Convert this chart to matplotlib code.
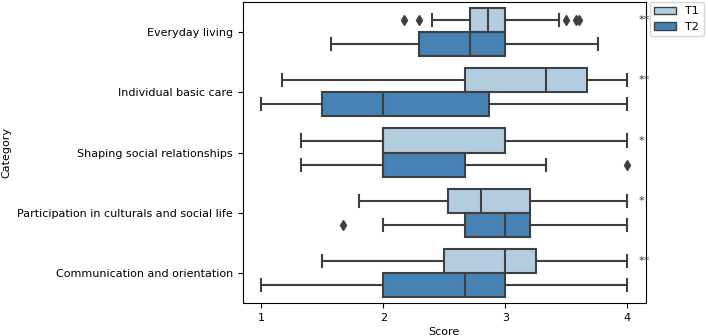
import matplotlib
matplotlib.use("Agg")
import matplotlib.pyplot as plt
from matplotlib.patches import Patch

categories = [
    "Everyday living",
    "Individual basic care",
    "Shaping social relationships",
    "Participation in culturals and social life",
    "Communication and orientation",
]
groups = ["T1", "T2"]
significance = ["**", "**", "*", "*", "**"]

# whisker low, Q1, median, Q3, whisker high
t1_stats = [
    [2.40, 2.71, 2.86, 3.00, 3.44],
    [1.17, 2.67, 3.33, 3.67, 4.00],
    [1.33, 2.00, 2.00, 3.00, 4.00],
    [1.80, 2.53, 2.80, 3.20, 4.00],
    [1.50, 2.50, 3.00, 3.25, 4.00],
]
t2_stats = [
    [1.57, 2.29, 2.71, 3.00, 3.76],
    [1.00, 1.50, 2.00, 2.87, 4.00],
    [1.33, 2.00, 2.00, 2.67, 3.33],
    [2.00, 2.67, 3.00, 3.20, 4.00],
    [1.00, 2.00, 2.67, 3.00, 4.00],
]
t1_fliers = [[2.17, 2.29, 3.50, 3.58, 3.60], [], [], [], []]
t2_fliers = [[], [], [4.00], [1.67], []]

COLORS = {"T1": "#b3cde0", "T2": "#4682b4"}
EDGE = "#3f3f3f"


def to_bxp(stats, fliers):
    out = []
    for s, f in zip(stats, fliers):
        out.append(dict(whislo=s[0], q1=s[1], med=s[2], q3=s[3], whishi=s[4], fliers=f))
    return out


plt.rcParams.update({"font.family": "DejaVu Sans", "font.size": 8})
fig = plt.figure(figsize=(7.08, 3.36), dpi=100)
ax = fig.add_axes([0.343, 0.098, 0.569, 0.896])

for offset, grp, stats, fl in [(-0.2, "T1", t1_stats, t1_fliers), (0.2, "T2", t2_stats, t2_fliers)]:
    pos = [i + offset for i in range(len(categories))]
    ax.bxp(
        to_bxp(stats, fl),
        positions=pos,
        widths=0.4,
        vert=False,
        patch_artist=True,
        manage_ticks=False,
        boxprops=dict(facecolor=COLORS[grp], edgecolor=EDGE, linewidth=1.5),
        medianprops=dict(color=EDGE, linewidth=1.5),
        whiskerprops=dict(color=EDGE, linewidth=1.5),
        capprops=dict(color=EDGE, linewidth=1.5),
        flierprops=dict(marker="d", markerfacecolor=EDGE, markeredgecolor=EDGE, markersize=5),
        capwidths=0.2,
    )

for i, sig in enumerate(significance):
    ax.text(4.09, i - 0.2, sig, ha="left", va="center", fontsize=8, color="#333333")

ax.set_yticks(range(len(categories)))
ax.set_yticklabels(categories)
ax.set_ylim(4.5, -0.5)
ax.set_xlim(0.85, 4.15)
ax.set_xticks([1, 2, 3, 4])
ax.set_xlabel("Score", labelpad=3)
ax.set_ylabel("Category")

handles = [Patch(facecolor=COLORS[g], edgecolor=EDGE, label=g) for g in groups]
ax.legend(handles=handles, loc="upper left", bbox_to_anchor=(1.01, 1.0), borderaxespad=0.0)

fig.savefig("out.png", dpi=100)
